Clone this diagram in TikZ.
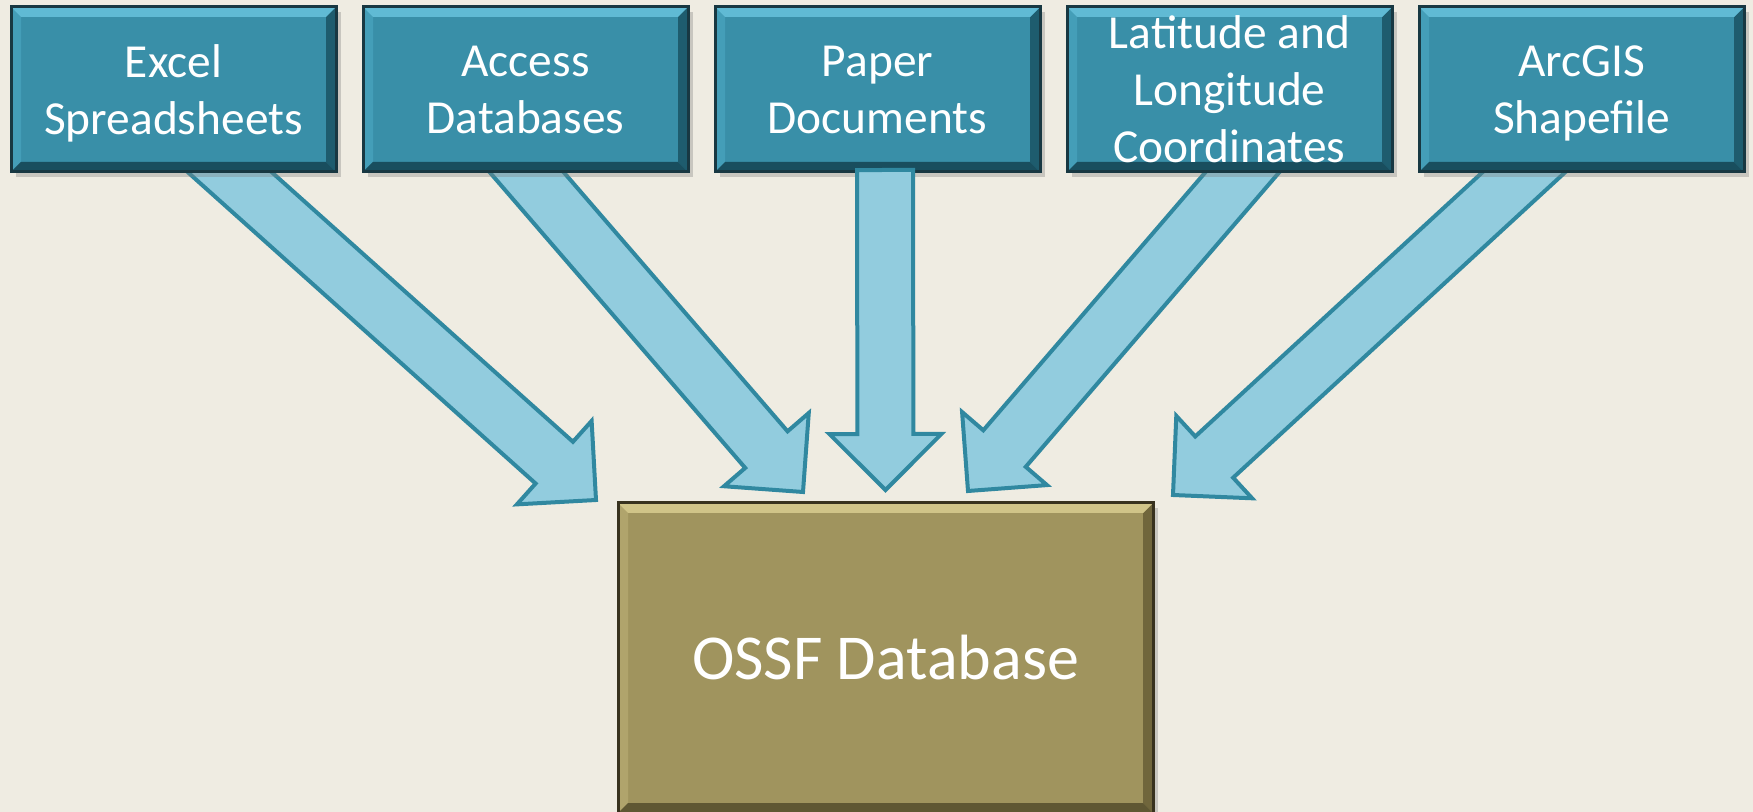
\documentclass[tikz,border=0pt]{standalone}
\usepackage{fontspec}
\setmainfont{Carlito}
\usetikzlibrary{positioning,calc,shadows}
\pgfdeclarelayer{bg}
\pgfdeclarelayer{arrows}
\pgfsetlayers{bg,arrows,main}
\definecolor{paper}{RGB}{239,236,226}
\definecolor{srcteal}{RGB}{57,143,168}
\definecolor{srcedge}{RGB}{24,56,66}
\definecolor{srclight}{RGB}{96,186,212}
\definecolor{srcside}{RGB}{68,158,184}
\definecolor{srcdark}{RGB}{30,92,110}
\definecolor{dbfill}{RGB}{160,148,94}
\definecolor{dbedge}{RGB}{56,50,30}
\definecolor{dblight}{RGB}{208,196,136}
\definecolor{dbside}{RGB}{176,164,108}
\definecolor{dbdark}{RGB}{112,102,60}
\definecolor{flowfill}{RGB}{146,204,222}
\definecolor{flowedge}{RGB}{48,136,160}
\newcommand\bevelfaces[3]{%
  \path (path picture bounding box.north west) coordinate (bnw)
        (path picture bounding box.north east) coordinate (bne)
        (path picture bounding box.south east) coordinate (bse)
        (path picture bounding box.south west) coordinate (bsw);
  \fill[#2] (bnw) -- ($(bnw)+(5pt,-5pt)$) -- ($(bsw)+(5pt,5pt)$) -- (bsw) -- cycle;
  \fill[#3] (bne) -- (bse) -- ($(bse)+(-5pt,5pt)$) -- ($(bne)+(-5pt,-5pt)$) -- cycle;
  \fill[#3!85!black] (bsw) -- (bse) -- ($(bse)+(-5pt,5pt)$) -- ($(bsw)+(5pt,5pt)$) -- cycle;
  \fill[#1] (bnw) -- (bne) -- ($(bne)+(-5pt,-5pt)$) -- ($(bnw)+(5pt,-5pt)$) -- cycle;
}
\newcommand\flowarrow[2]{%
  \coordinate (neck) at ($(#2)!28pt!(#1)$);
  \draw[flow] ($(#1)!14pt!90:(#2)$) -- ($(neck)!14pt!-90:(#1)$) -- ($(neck)!28pt!-90:(#1)$)
    -- (#2) -- ($(neck)!28pt!90:(#1)$) -- ($(neck)!14pt!90:(#1)$) -- ($(#1)!14pt!-90:(#2)$) -- cycle;
}
\tikzset{
  srcbox/.style={draw=srcedge, line width=1.5pt, fill=srcteal, text=white,
    minimum width=162.5pt, minimum height=82.5pt, inner sep=0pt, outer sep=0pt,
    align=center, font=\fontsize{23.7}{28.5}\selectfont, text depth=0pt,
    drop shadow={shadow xshift=2.5pt, shadow yshift=-2.5pt, opacity=.35},
    path picture={\bevelfaces{srclight}{srcside}{srcdark}}},
  dbbox/.style={draw=dbedge, line width=1.5pt, fill=dbfill, text=white,
    minimum width=267.5pt, minimum height=155pt, inner sep=0pt, outer sep=0pt,
    font=\fontsize{32}{38}\selectfont,
    drop shadow={shadow xshift=2.5pt, shadow yshift=-2.5pt, opacity=.35},
    path picture={\bevelfaces{dblight}{dbside}{dbdark}}},
  flow/.style={draw=flowedge, fill=flowfill, line width=2pt, line join=miter}
}
\begin{document}
\begin{tikzpicture}[x=0.5pt, y=-0.5pt]
\useasboundingbox (0,0) rectangle (1753,812);
\begin{pgfonlayer}{bg}
\fill[paper] (0,0) rectangle (1753,812);
\end{pgfonlayer}

\node[srcbox] (ex) at (173.5,89.5) {Excel\\Spreadsheets};
\node[srcbox, right=13.5pt of ex] (ac) {Access\\Databases};
\node[srcbox, right=13.5pt of ac] (pa) {Paper\\Documents};
\node[srcbox, right=13.5pt of pa] (ll) {Latitude and\\Longitude\\Coordinates};
\node[srcbox, right=13.5pt of ll] (ar) {ArcGIS\\Shapefile};
\node[dbbox] (db) at (885.5,658) {OSSF Database};

\coordinate (ex-out) at ($(ex.south)+(31.5,-22)$);
\coordinate (ac-out) at ($(ac.south)+(-18,-22)$);
\coordinate (pa-out) at ($(pa.south)+(7.5,-2)$);
\coordinate (ll-out) at ($(ll.south)+(32,-22)$);
\coordinate (ar-out) at ($(ar.south)+(-33.5,-22)$);
\coordinate (ex-in) at ($(db.north)+(-289.5,-3)$);
\coordinate (ac-in) at ($(db.north)+(-82.5,-11)$);
\coordinate (pa-in) at ($(db.north)+(0,-13)$);
\coordinate (ll-in) at ($(db.north)+(82.5,-12)$);
\coordinate (ar-in) at ($(db.north)+(287.5,-8)$);

\begin{pgfonlayer}{arrows}
\flowarrow{ex-out}{ex-in}
\flowarrow{ac-out}{ac-in}
\flowarrow{ll-out}{ll-in}
\flowarrow{ar-out}{ar-in}
\end{pgfonlayer}
\flowarrow{pa-out}{pa-in}
\end{tikzpicture}
\end{document}
